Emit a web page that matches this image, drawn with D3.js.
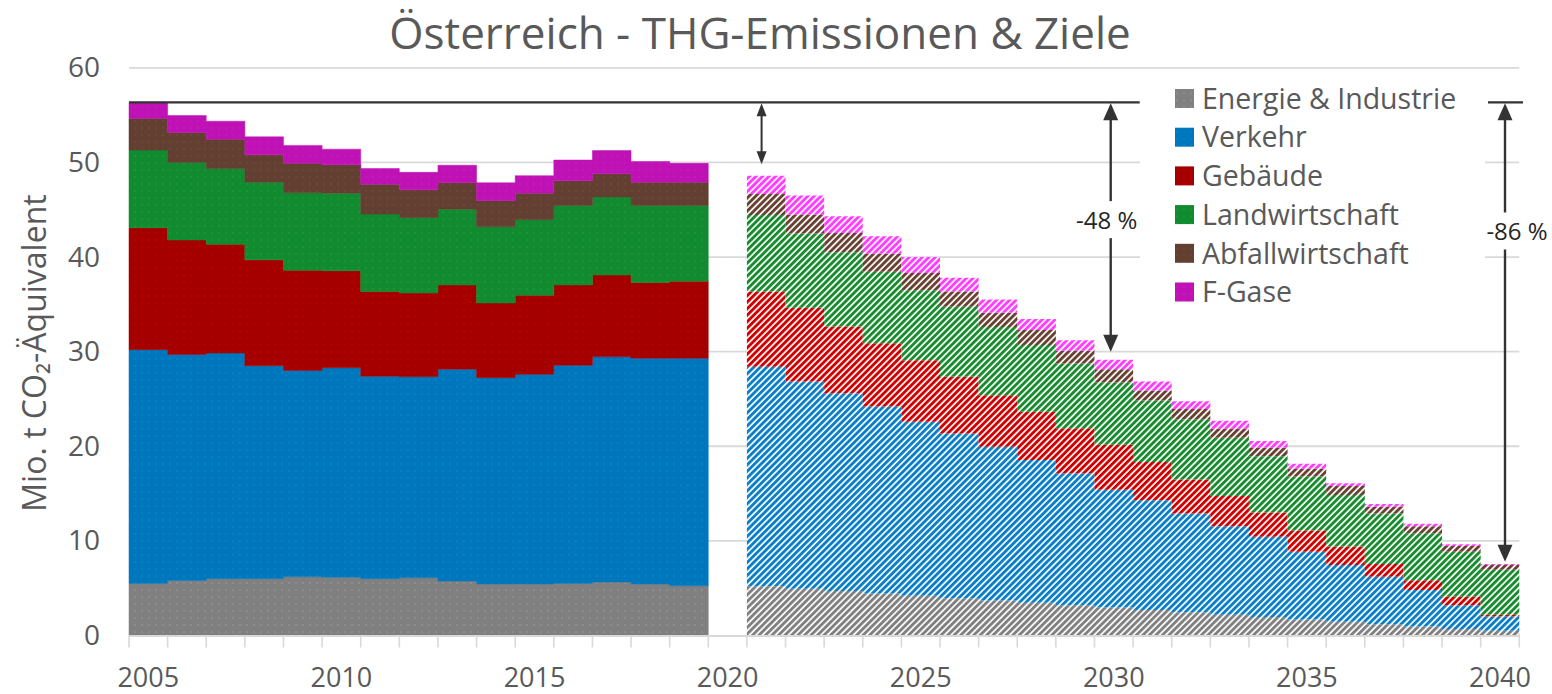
<!DOCTYPE html>
<html>
<head>
<meta charset="utf-8">
<script src="https://cdn.jsdelivr.net/npm/d3@7"></script>
<style>
  body { margin: 0; background: #fff; }
  svg { display: block; font-family: "Open Sans", sans-serif; }
</style>
</head>
<body>
<div id="chart"></div>
<script>
// categories (2020 is an empty slot between history and path to 2040)
const years = [2005, 2006, 2007, 2008, 2009, 2010, 2011, 2012, 2013, 2014, 2015, 2016,
               2017, 2018, 2019, 2020, 2021, 2022, 2023, 2024, 2025, 2026, 2027, 2028,
               2029, 2030, 2031, 2032, 2033, 2034, 2035, 2036, 2037, 2038, 2039, 2040];
const sectors = ["Energie & Industrie", "Verkehr", "Gebäude", "Landwirtschaft", "Abfallwirtschaft", "F-Gase"];

// Mio. t CO2-Äquivalent per sector
const energie  = [5.5, 5.8, 6.0, 6.0, 6.2, 6.15, 6.0, 6.1, 5.75, 5.45, 5.45, 5.5, 5.65, 5.45, 5.25, null,
                  5.2, 4.95, 4.7, 4.45, 4.2, 3.95, 3.7, 3.45, 3.2, 2.95, 2.7, 2.45, 2.2, 1.95, 1.7, 1.45, 1.2, 0.95, 0.7, 0.5];
const verkehr  = [24.7, 23.9, 23.85, 22.5, 21.8, 22.15, 21.4, 21.25, 22.4, 21.8, 22.15, 23.05, 23.8, 23.85, 24.05, null,
                  23.2, 21.9, 20.9, 19.75, 18.4, 17.4, 16.25, 15.1, 13.95, 12.45, 11.6, 10.45, 9.35, 8.5, 7.15, 6.0, 5.0, 3.85, 2.5, 1.5];
const gebaeude = [12.9, 12.1, 11.5, 11.2, 10.6, 10.25, 8.95, 8.85, 8.9, 7.9, 8.35, 8.5, 8.65, 8.0, 8.15, null,
                  7.95, 7.8, 7.05, 6.7, 6.5, 6.0, 5.45, 5.1, 4.75, 4.75, 4.05, 3.6, 3.2, 2.55, 2.25, 1.95, 1.35, 1.05, 0.9, 0.2];
const landwirt = [8.2, 8.2, 8.0, 8.2, 8.2, 8.2, 8.2, 7.95, 8.0, 8.05, 8.0, 8.4, 8.25, 8.15, 8.0, null,
                  8.1, 7.85, 7.85, 7.55, 7.4, 7.4, 7.2, 7.05, 6.85, 6.6, 6.5, 6.35, 6.15, 5.95, 5.7, 5.45, 5.35, 4.95, 4.75, 4.75];
const abfall   = [3.35, 3.15, 3.1, 2.9, 3.1, 3.0, 3.15, 2.95, 2.8, 2.75, 2.8, 2.6, 2.45, 2.45, 2.45, null,
                  2.2, 2.0, 2.05, 1.9, 1.8, 1.6, 1.5, 1.6, 1.35, 1.4, 1.05, 1.1, 0.95, 0.9, 0.85, 0.95, 0.7, 0.75, 0.6, 0.5];
const fgase    = [1.7, 1.8, 1.9, 1.9, 1.9, 1.65, 1.65, 1.85, 1.85, 1.9, 1.85, 2.2, 2.45, 2.2, 2.0, null,
                  1.95, 2.0, 1.75, 1.85, 1.7, 1.45, 1.4, 1.15, 1.1, 1.0, 0.95, 0.8, 0.85, 0.7, 0.5, 0.3, 0.3, 0.25, 0.2, 0.1];

const yTicks = [0, 10, 20, 30, 40, 50, 60];
const xTickLabels = [2005, 2010, 2015, 2020, 2025, 2030, 2035, 2040];

// reduction arrows: year, value the arrow points at, label
const arrowYears  = [2021, 2030, 2040];
const arrowEnds   = [49.8, 30.0, 7.8];
const arrowLabels = ["", "-48 %", "-86 %"];

const histColors  = ["#808080", "#0077bd", "#a50000", "#128a2f", "#623f31", "#be12b4"];
const hatchColors = ["#808080", "#0a7ec6", "#d00000", "#188b2e", "#674233", "#ff3cff"];

const width = 1552, height = 694;
const svg = d3.select("#chart").append("svg")
  .attr("width", width)
  .attr("height", height);

const defs = svg.append("defs");
sectors.forEach((s, i) => {
  // history: solid with faint dots
  const p = defs.append("pattern")
    .attr("id", "hist" + i)
    .attr("patternUnits", "userSpaceOnUse")
    .attr("width", 7).attr("height", 7);
  p.append("rect").attr("width", 7).attr("height", 7).attr("fill", histColors[i]);
  p.append("circle").attr("cx", 2).attr("cy", 2).attr("r", 0.7)
    .attr("fill", d3.color(histColors[i]).brighter(1.3)).attr("opacity", 0.45);

  // targets: upward diagonal hatch
  const h = defs.append("pattern")
    .attr("id", "hatch" + i)
    .attr("patternUnits", "userSpaceOnUse")
    .attr("width", 4.6).attr("height", 4.6)
    .attr("patternTransform", "rotate(45)");
  h.append("rect").attr("width", 4.6).attr("height", 4.6).attr("fill", "#fff");
  h.append("rect").attr("width", 2.9).attr("height", 4.6).attr("fill", hatchColors[i]);
});

const x = d3.scaleBand()
  .domain(years)
  .range([129, 1519.3])
  .padding(0);
const bw = x.bandwidth();

const y = d3.scaleLinear()
  .domain([0, 60])
  .range([635.5, 67.8]);

// gridlines
svg.append("g")
  .selectAll("line")
  .data(yTicks.filter(d => d > 0))
  .join("line")
    .attr("x1", x.range()[0])
    .attr("x2", x.range()[1])
    .attr("y1", d => y(d))
    .attr("y2", d => y(d))
    .attr("stroke", "#d9d9d9")
    .attr("stroke-width", 1.8);

// y axis labels
const yAxis = svg.append("g")
  .attr("transform", `translate(${x.range()[0]},0)`)
  .call(d3.axisLeft(y).tickValues(yTicks).tickSize(0).tickPadding(29));
yAxis.select(".domain").remove();
yAxis.selectAll("text")
  .style("font-family", "Open Sans, sans-serif")
  .style("font-size", "28px")
  .attr("fill", "#595959");

// stacked data
const rows = years.map((yr, i) => ({
  year: yr,
  "Energie & Industrie": energie[i],
  "Verkehr": verkehr[i],
  "Gebäude": gebaeude[i],
  "Landwirtschaft": landwirt[i],
  "Abfallwirtschaft": abfall[i],
  "F-Gase": fgase[i]
})).filter(d => d["Verkehr"] != null);

const series = d3.stack().keys(sectors)(rows);

const area = d3.area()
  .x(d => d.x)
  .y0(d => y(d.y0))
  .y1(d => y(d.y1));

function stepPoints(s, test) {
  return s.filter(d => test(d.data.year)).flatMap(d => [
    { x: x(d.data.year), y0: d[0], y1: d[1] },
    { x: x(d.data.year) + bw, y0: d[0], y1: d[1] }
  ]);
}

const gAreas = svg.append("g");
series.forEach((s, i) => {
  gAreas.append("path")
    .attr("d", area(stepPoints(s, yr => yr < 2020)))
    .attr("fill", `url(#hist${i})`)
    .attr("stroke", histColors[i])
    .attr("stroke-width", 0.5);
  gAreas.append("path")
    .attr("d", area(stepPoints(s, yr => yr > 2020)))
    .attr("fill", `url(#hatch${i})`);
});

// x axis: labels at category centres, ticks at category borders
const xAxis = svg.append("g")
  .attr("transform", `translate(0,${y(0)})`)
  .call(d3.axisBottom(x).tickValues(xTickLabels).tickSize(0).tickPadding(32));
xAxis.select(".domain")
  .attr("stroke", "#d9d9d9")
  .attr("stroke-width", 2);
xAxis.selectAll("text")
  .style("font-family", "Open Sans, sans-serif")
  .style("font-size", "27px")
  .attr("fill", "#595959");

svg.append("g")
  .selectAll("line")
  .data(years.concat([null]))
  .join("line")
    .attr("x1", d => d == null ? x.range()[1] : x(d))
    .attr("x2", d => d == null ? x.range()[1] : x(d))
    .attr("y1", y(0))
    .attr("y2", y(0) + 12)
    .attr("stroke", "#d9d9d9")
    .attr("stroke-width", 1.6);

// legend
const legend = svg.append("g");
legend.append("rect")
  .attr("x", 1140).attr("y", 78)
  .attr("width", 345).attr("height", 234)
  .attr("fill", "#fff");
const li = legend.selectAll("g.item")
  .data(sectors)
  .join("g")
    .attr("class", "item")
    .attr("transform", (d, i) => `translate(1175,${98.5 + i * 38.7})`);
li.append("rect")
  .attr("x", 0).attr("y", -9.5)
  .attr("width", 19).attr("height", 19)
  .attr("fill", (d, i) => `url(#hist${i})`);
li.append("text")
  .attr("x", 27)
  .attr("dy", "0.36em")
  .style("font-size", "28.5px")
  .attr("fill", "#595959")
  .text(d => d);

// reference level 2005 and reduction arrows
const total2005 = d3.sum(sectors, (k, i) => [energie, verkehr, gebaeude, landwirt, abfall, fgase][i][0]);
const yRef = y(total2005);
const ax = [x(2021) + bw * 0.38, x(2030) + bw * 0.42, x(2040) + bw * 0.63];
const ink = "#333";

svg.append("line")
  .attr("x1", x.range()[0]).attr("x2", ax[1] + 29)
  .attr("y1", yRef).attr("y2", yRef)
  .attr("stroke", ink).attr("stroke-width", 2.2);
svg.append("line")
  .attr("x1", ax[2] - 17).attr("x2", ax[2] + 18)
  .attr("y1", yRef).attr("y2", yRef)
  .attr("stroke", ink).attr("stroke-width", 2.2);

function head(cx, tipY, dir, w, l) {
  // dir = -1 points up, +1 points down
  svg.append("path")
    .attr("d", `M${cx},${tipY} L${cx - w / 2},${tipY - dir * l} L${cx + w / 2},${tipY - dir * l} Z`)
    .attr("fill", ink);
}

// 2021: small double arrow
{
  const y2 = y(arrowEnds[0]);
  svg.append("line")
    .attr("x1", ax[0]).attr("x2", ax[0])
    .attr("y1", yRef + 8).attr("y2", y2 - 8)
    .attr("stroke", ink).attr("stroke-width", 2);
  head(ax[0], yRef + 1, -1, 10, 13);
  head(ax[0], y2, 1, 10, 13);
}

// 2030 and 2040: long arrows with label
const labelCentres = [null, y(43.9), y(42.7)];
const labelShift = [0, -4, 12];
[1, 2].forEach(k => {
  const y2 = y(arrowEnds[k]);
  const lc = labelCentres[k];
  svg.append("line")
    .attr("x1", ax[k]).attr("x2", ax[k])
    .attr("y1", yRef + 12).attr("y2", lc - 19)
    .attr("stroke", ink).attr("stroke-width", 2.4);
  svg.append("line")
    .attr("x1", ax[k]).attr("x2", ax[k])
    .attr("y1", lc + 18).attr("y2", y2 - 12)
    .attr("stroke", ink).attr("stroke-width", 2.4);
  head(ax[k], yRef + 1, -1, 15, 17);
  head(ax[k], y2, 1, 15, 17);
  svg.append("text")
    .attr("x", ax[k] + labelShift[k])
    .attr("y", lc)
    .attr("dy", "0.36em")
    .attr("text-anchor", "middle")
    .style("font-size", "24px")
    .attr("fill", "#262626")
    .text(arrowLabels[k]);
});

// title and y label
svg.append("text")
  .attr("x", 760).attr("y", 49)
  .attr("text-anchor", "middle")
  .style("font-size", "44px")
  .attr("fill", "#595959")
  .text("Österreich - THG-Emissionen & Ziele");

svg.append("text")
  .attr("transform", "translate(46,353) rotate(-90)")
  .attr("text-anchor", "middle")
  .style("font-size", "32px")
  .attr("fill", "#595959")
  .text("Mio. t CO₂-Äquivalent");
</script>
</body>
</html>
